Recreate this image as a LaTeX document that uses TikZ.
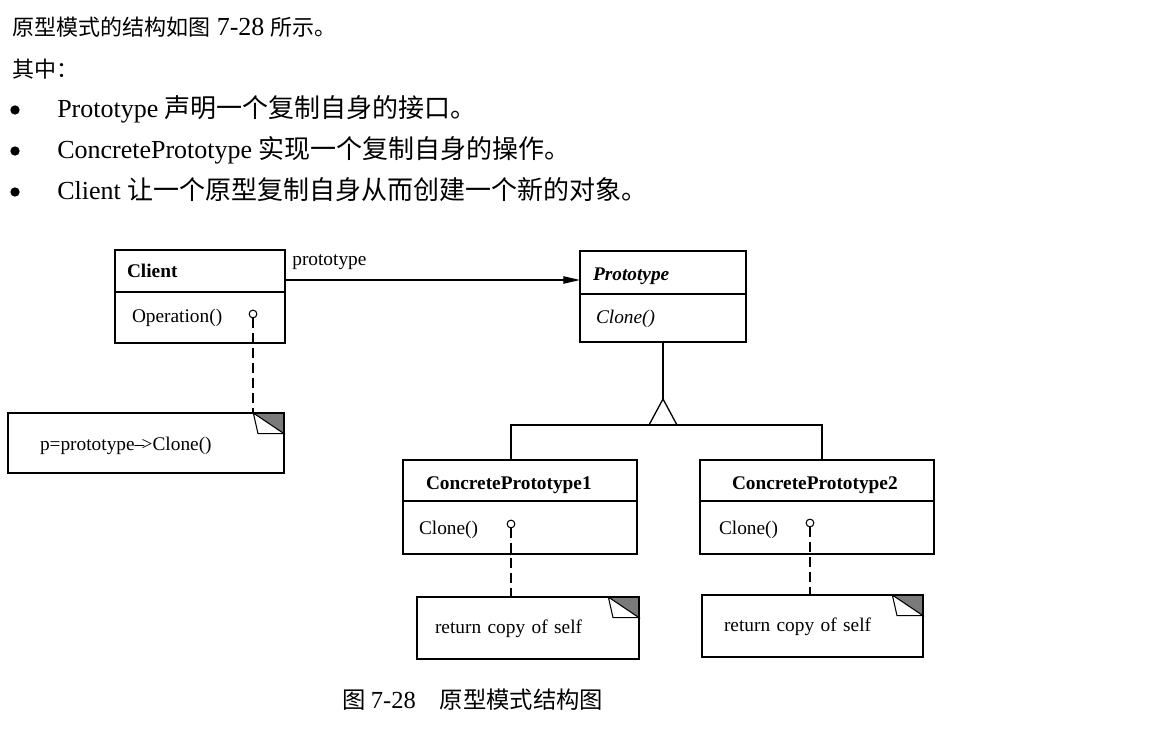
\documentclass[tikz,border=0pt]{standalone}
\usepackage{fontspec}
\setmainfont{Liberation Serif}
\newfontfamily\cjk{Noto Sans CJK SC}
\usetikzlibrary{positioning, arrows.meta}
\definecolor{foldgray}{HTML}{7A7A7A}
\newcommand\zh[2][16.5]{{\cjk\fontsize{#1}{#1}\selectfont #2}}
\newcommand\diag{\fontsize{14.5}{17}\selectfont}
\tikzset{
  head/.style={anchor=base west, inner sep=0pt, font=\fontsize{19.5}{23}\selectfont},
  dot/.style={circle, fill, inner sep=0pt, minimum size=7pt},
  cname/.style={draw, line width=1pt, outer sep=0pt, anchor=north west, inner ysep=0pt, text height=11.5pt, text depth=0pt, align=left, font=\diag\bfseries},
  cops/.style={draw, line width=1pt, outer sep=0pt, inner ysep=0pt, text height=9pt, text depth=0pt, align=left, font=\diag},
  lolly/.style={circle, draw, line width=0.8pt, fill=white, inner sep=0pt, minimum size=5.8pt},
  note/.style={anchor=north west, inner ysep=0pt, outer sep=0pt, text height=9pt, text depth=0pt, align=left, font=\diag},
  dep/.style={line width=0.8pt, dash pattern=on 7.5pt off 3.75pt},
  link/.style={line width=1pt}
}

\begin{document}
\begin{tikzpicture}[x=0.75pt, y=-0.75pt]
\useasboundingbox (0,0) rectangle (1160,734);

% text above the figure
\node[head] (h1) at (12,36) {\zh{原型模式的结构如图} 7-28 \zh{所示。}};
\node[head] (h2) at (12,78) {\zh{其中：}};
\node[dot] (d1) at (15,110) {};
\node[dot] (d2) at (15,151) {};
\node[dot] (d3) at (15,192) {};
\node[head] (b1) at (57,118) {Prototype \zh[19.5]{声明一个复制自身的接口。}};
\node[head] (b2) at (57,159) {ConcretePrototype \zh[19.5]{实现一个复制自身的操作。}};
\node[head] (b3) at (57,200) {Client \zh[19.5]{让一个原型复制自身从而创建一个新的对象。}};

% classes
\node[cname, inner xsep=9pt, text width=109.5pt, minimum height=31.5pt, text height=10.5pt] (client) at (115,250) {Client};
\node[cops, inner xsep=12.75pt, text width=102pt, minimum height=38.25pt, text height=8.25pt, below=0pt of client] (clientops) {Operation()};

\node[cname, inner xsep=9.75pt, text width=105pt, minimum height=32.25pt, font=\diag\bfseries\itshape] (proto) at (580,251) {Prototype};
\node[cops, inner xsep=12pt, text width=100.5pt, minimum height=36pt, font=\diag\itshape, below=0pt of proto] (protoops) {Clone()};

\node[cname, inner xsep=17.25pt, text width=141pt, minimum height=30.75pt, text height=12.75pt] (cp1) at (403,460) {ConcretePrototype1};
\node[cops, inner xsep=12pt, text width=151.5pt, minimum height=39.75pt, text height=9.75pt, below=0pt of cp1] (cp1ops) {Clone()};

\node[cname, inner xsep=24pt, text width=127.5pt, minimum height=30.75pt, text height=12.75pt] (cp2) at (700,460) {ConcretePrototype2};
\node[cops, inner xsep=14.25pt, text width=147pt, minimum height=39.75pt, text height=9.75pt, below=0pt of cp2] (cp2ops) {Clone()};

% notes
\node[note, inner xsep=24pt, text width=159pt, minimum height=45pt, text height=10.5pt] (note0) at (8,413) {p=prototype--\kern-2pt>Clone()};
\node[note, inner xsep=13.5pt, text width=139.5pt, minimum height=46.5pt, text height=7.5pt] (note1) at (417,597) {return copy of self};
\node[note, inner xsep=16.5pt, text width=132.75pt, minimum height=46.5pt, text height=7.5pt] (note2) at (702,595) {return copy of self};

\foreach \n in {note0,note1,note2} {
  \fill[foldgray] ([xshift=-23pt]\n.north east) -- (\n.north east) -- ([yshift=-15.5pt]\n.north east) -- cycle;
  \draw[link] (\n.north west) -- (\n.north east) -- (\n.south east) -- (\n.south west) -- cycle;
  \draw[line width=0.8pt] ([xshift=-23pt]\n.north east) -- ([xshift=-19.5pt,yshift=-15.5pt]\n.north east) -- ([yshift=-15.5pt]\n.north east) -- cycle;
}

% note links
\node[lolly] (k0) at (253,314) {};
\node[lolly] (k1) at (511,524) {};
\node[lolly] (k2) at (810,523) {};
\draw[dep] (k0.south) -- (k0 |- note0.north);
\draw[dep] (k1.south) -- (k1 |- note1.north);
\draw[dep] (k2.south) -- (k2 |- note2.north);

% association
\coordinate (ay) at (0,280);
\draw[link, -{Triangle[length=12.5pt, width=5.5pt]}] (client.east |- ay) -- node[pos=0, anchor=base west, inner sep=0pt, xshift=5pt, yshift=10.5pt, font=\diag] (lbl) {prototype} (proto.west |- ay);

% inheritance
\coordinate (apex) at ([yshift=-42.75pt]protoops.south);
\coordinate (j1) at (511,425);
\coordinate (j2) at (822,425);
\draw[link] (protoops.south) -- (apex);
\draw[link] (apex) -- ++(-14,26) -- ++(28,0) -- cycle;
\draw[link] (cp1.north -| j1) -- (j1) -- (j2) -- (cp2.north -| j2);

% caption
\node[head, font=\fontsize{18.4}{22}\selectfont] (cap) at (342,708) {\zh[17.5]{图}\hspace{4pt}7-28\hspace{18pt}\zh[17.5]{原型模式结构图}};
\end{tikzpicture}
\end{document}
